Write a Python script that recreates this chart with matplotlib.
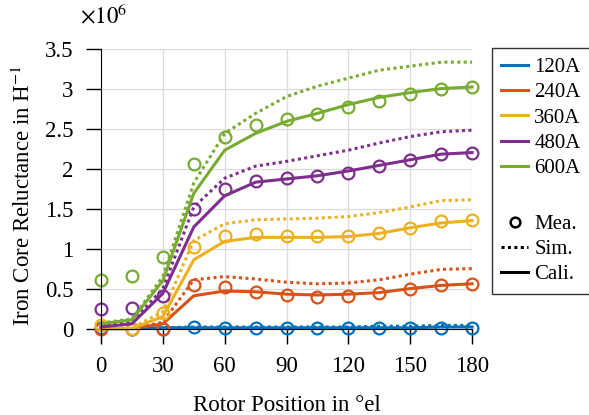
import matplotlib
matplotlib.use("Agg")
import matplotlib.pyplot as plt
import matplotlib.ticker as ticker
from matplotlib.lines import Line2D

plt.rcParams['font.family'] = ['Liberation Serif', 'DejaVu Serif']
plt.rcParams['mathtext.fontset'] = 'stix'

# Rotor position in electrical degrees
rotor_pos = [0, 15, 30, 45, 60, 75, 90, 105, 120, 135, 150, 165, 180]

currents = ["120A", "240A", "360A", "480A", "600A"]
colors = ["#0072BD", "#D95319", "#EDB120", "#7E2F8E", "#77AC30"]

# Iron core reluctance in 1e6 / H
mea_120 = [0.01, 0.0, 0.0, 0.02, 0.01, 0.01, 0.01, 0.01, 0.01, 0.01, 0.01, 0.01, 0.01]
sim_120 = [0.0, 0.0, 0.01, 0.02, 0.02, 0.02, 0.02, 0.02, 0.02, 0.03, 0.03, 0.04, 0.04]
cal_120 = [0.0, 0.0, 0.01, 0.01, 0.01, 0.01, 0.01, 0.01, 0.01, 0.01, 0.01, 0.02, 0.02]

mea_240 = [0.0, 0.0, 0.0, 0.55, 0.52, 0.46, 0.42, 0.40, 0.41, 0.44, 0.50, 0.54, 0.56]
sim_240 = [0.0, 0.0, 0.08, 0.61, 0.65, 0.62, 0.58, 0.56, 0.57, 0.61, 0.68, 0.74, 0.75]
cal_240 = [0.0, 0.0, 0.06, 0.41, 0.47, 0.46, 0.43, 0.42, 0.43, 0.45, 0.50, 0.54, 0.56]

mea_360 = [0.05, 0.0, 0.19, 1.02, 1.16, 1.18, 1.16, 1.16, 1.16, 1.20, 1.26, 1.34, 1.36]
sim_360 = [0.01, 0.01, 0.21, 1.10, 1.31, 1.36, 1.37, 1.38, 1.40, 1.45, 1.52, 1.60, 1.61]
cal_360 = [0.0, 0.0, 0.15, 0.86, 1.09, 1.14, 1.14, 1.14, 1.15, 1.19, 1.26, 1.32, 1.35]

mea_480 = [0.24, 0.26, 0.41, 1.49, 1.74, 1.84, 1.88, 1.91, 1.95, 2.03, 2.11, 2.18, 2.20]
sim_480 = [0.03, 0.08, 0.50, 1.52, 1.88, 2.03, 2.09, 2.16, 2.23, 2.32, 2.40, 2.46, 2.48]
cal_480 = [0.02, 0.06, 0.44, 1.27, 1.66, 1.83, 1.87, 1.91, 1.97, 2.04, 2.11, 2.18, 2.20]

mea_600 = [0.61, 0.66, 0.89, 2.06, 2.40, 2.54, 2.62, 2.68, 2.77, 2.85, 2.93, 3.00, 3.02]
sim_600 = [0.07, 0.12, 0.65, 1.82, 2.44, 2.69, 2.90, 3.03, 3.13, 3.23, 3.28, 3.33, 3.33]
cal_600 = [0.06, 0.11, 0.60, 1.69, 2.23, 2.44, 2.59, 2.69, 2.80, 2.89, 2.95, 3.00, 3.02]

mea = [mea_120, mea_240, mea_360, mea_480, mea_600]
sim = [sim_120, sim_240, sim_360, sim_480, sim_600]
cal = [cal_120, cal_240, cal_360, cal_480, cal_600]

fs = 16.5
fig = plt.figure(figsize=(5.89, 4.15), dpi=100)
ax = fig.add_axes([0.1715, 0.1735, 0.630, 0.7095])

for c, m, s, k in zip(colors, mea, sim, cal):
    ax.plot(rotor_pos, s, color=c, lw=2.2, linestyle=(0, (1, 1.1)), clip_on=False)
    ax.plot(rotor_pos, k, color=c, lw=2.2, clip_on=False)
    ax.plot(rotor_pos, m, linestyle="none", marker="o", markersize=8.5,
            markerfacecolor="none", markeredgecolor=c, markeredgewidth=1.6, clip_on=False)

ax.set_xlim(0, 180)
ax.set_ylim(-0.18, 3.5)
ax.xaxis.set_major_locator(ticker.MultipleLocator(30))
ax.yaxis.set_major_locator(ticker.FixedLocator([0, 0.5, 1, 1.5, 2, 2.5, 3, 3.5]))
ax.yaxis.set_major_formatter(ticker.FuncFormatter(lambda y, _: f'{y:g}'))

ax.spines['top'].set_visible(False)
ax.spines['right'].set_visible(False)
ax.spines['bottom'].set_position(('data', 0))
ax.tick_params(direction='out', length=11, width=1.0, pad=9, labelsize=fs)
ax.grid(True, color="#dcdcdc", lw=0.9)
ax.set_axisbelow(True)

ax.set_xlabel("Rotor Position in °el", fontsize=fs, labelpad=13)
ax.set_ylabel(r"Iron Core Reluctance in H$^{-1}$", fontsize=fs, labelpad=7)
fig.text(0.136, 0.962, r"$\times10^6$", fontsize=fs, va="center", ha="left")

handles = [Line2D([], [], color=c, lw=2.2) for c in colors]
labels = list(currents)
handles.append(Line2D([], [], color="none"))
labels.append(" ")
handles.append(Line2D([], [], linestyle="none", marker="o", markersize=7,
                      markerfacecolor="none", markeredgecolor="black", markeredgewidth=1.8))
labels.append("Mea.")
handles.append(Line2D([], [], color="black", lw=2.2, linestyle=(0, (1, 1.1))))
labels.append("Sim.")
handles.append(Line2D([], [], color="black", lw=2.2))
labels.append("Cali.")

leg = fig.legend(handles, labels, loc="upper left", bbox_to_anchor=(0.8348, 0.8836),
                 fontsize=15, frameon=True, fancybox=False, edgecolor="black",
                 handlelength=1.3, handletextpad=0.3, labelspacing=0.27,
                 borderaxespad=0, borderpad=0.45)
leg.get_frame().set_linewidth(1.0)
# taller spacer row between the current entries and the line-style key
leg.get_texts()[5].set_fontsize(20)

fig.savefig("out.png", dpi=100)
